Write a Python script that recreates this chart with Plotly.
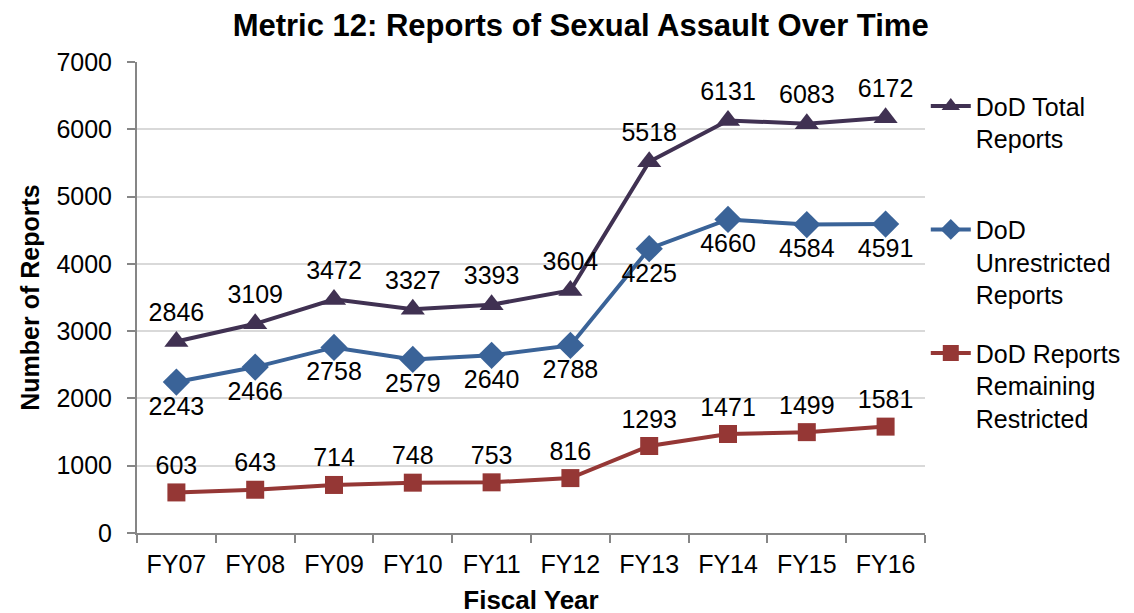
import plotly.graph_objects as go

years = ["FY07", "FY08", "FY09", "FY10", "FY11", "FY12", "FY13", "FY14", "FY15", "FY16"]
total = [2846, 3109, 3472, 3327, 3393, 3604, 5518, 6131, 6083, 6172]
unrestricted = [2243, 2466, 2758, 2579, 2640, 2788, 4225, 4660, 4584, 4591]
restricted = [603, 643, 714, 748, 753, 816, 1293, 1471, 1499, 1581]

FONT = "Liberation Sans, Arial, sans-serif"
FS = 25

fig = go.Figure()
fig.add_trace(go.Scatter(
    x=years, y=total, name="DoD Total<br>Reports<br> ", legendgroup="a",
    mode="lines+markers+text", text=[str(v) for v in total], textposition="top center",
    line=dict(color="#403152", width=4), marker=dict(symbol="triangle-up", size=21, color="#403152"),
    textfont=dict(size=FS, color="#000000", family=FONT)))
fig.add_trace(go.Scatter(
    x=years, y=unrestricted, name="DoD<br>Unrestricted<br>Reports", legendgroup="b",
    mode="lines+markers+text", text=[str(v) for v in unrestricted], textposition="bottom center",
    line=dict(color="#3A6398", width=4), marker=dict(symbol="diamond", size=21, color="#3A6398"),
    textfont=dict(size=FS, color="#000000", family=FONT)))
fig.add_trace(go.Scatter(
    x=years, y=restricted, name="DoD Reports<br>Remaining<br>Restricted", legendgroup="c",
    mode="lines+markers+text", text=[str(v) for v in restricted], textposition="top center",
    line=dict(color="#953735", width=4), marker=dict(symbol="square", size=18, color="#953735"),
    textfont=dict(size=FS, color="#000000", family=FONT)))

fig.update_layout(
    width=1134, height=613,
    paper_bgcolor="white", plot_bgcolor="white",
    font=dict(family=FONT, size=FS, color="#000000"),
    margin=dict(l=129, r=217, t=54, b=88, autoexpand=False),
    title=dict(text="<b>Metric 12: Reports of Sexual Assault Over Time</b>", x=0.505, xanchor="center",
               y=0.972, yanchor="middle", font=dict(size=31, family=FONT)),
    showlegend=True,
    legend=dict(x=1.001, y=0.955, xanchor="left", yanchor="top", valign="top",
                tracegroupgap=23, bgcolor="rgba(0,0,0,0)",
                font=dict(size=FS, family=FONT), itemwidth=40),
    xaxis=dict(type="category", range=[-0.5, 9.5], showline=True, linecolor="#868686", linewidth=2,
               ticks="outside", tickson="boundaries", ticklen=8, tickcolor="#868686", tickwidth=2,
               ticklabelstandoff=8,
               showgrid=False, title=dict(text="<b>Fiscal Year</b>", font=dict(size=26), standoff=14),
               tickfont=dict(size=FS)),
    yaxis=dict(range=[0, 7000], dtick=1000, showline=True, linecolor="#868686", linewidth=2,
               ticks="outside", ticklen=8, tickcolor="#868686", tickwidth=2,
               ticklabelstandoff=10,
               gridcolor="#D9D9D9", gridwidth=1.5, zeroline=False,
               title=dict(text="<b>Number of Reports</b>", font=dict(size=25), standoff=10),
               tickfont=dict(size=FS)),
)

fig.write_html("out.html")
